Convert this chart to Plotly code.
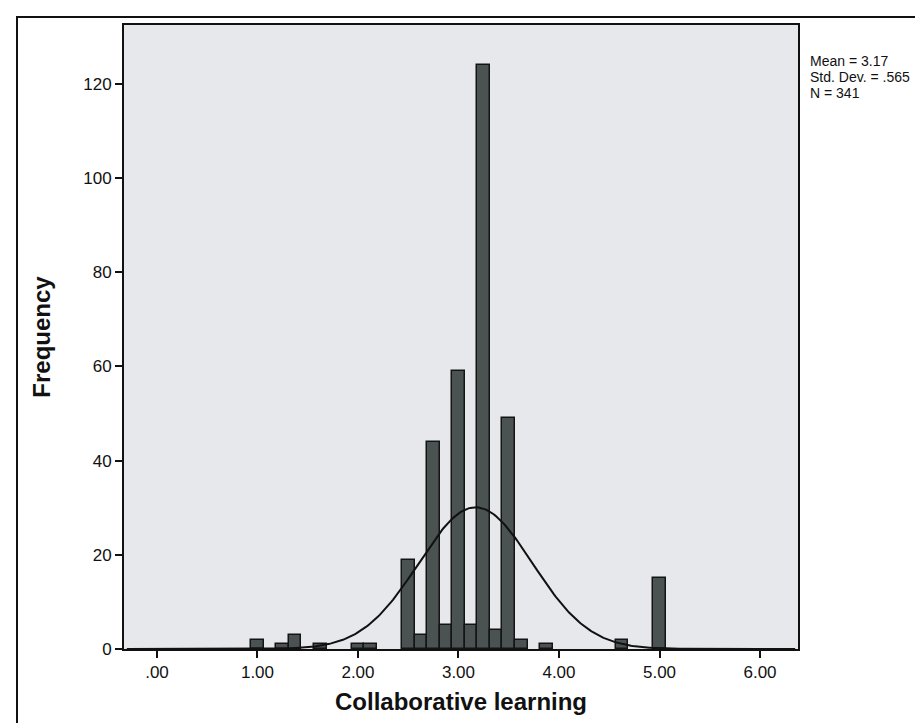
import numpy as np
import plotly.graph_objects as go

# ---- data ----
bin_centers = [1.000, 1.250, 1.375, 1.625, 2.000, 2.125,
               2.500, 2.625, 2.750, 2.875, 3.000, 3.125, 3.250, 3.375, 3.500, 3.625, 3.875,
               4.625, 5.000]
frequencies = [2, 1, 3, 1, 1, 1,
               19, 3, 44, 5, 59, 5, 124, 4, 49, 2, 1,
               2, 15]
BIN_WIDTH = 0.125
MEAN = 3.17
STD_DEV = 0.565
N = 341

x_tick_vals = [0, 1, 2, 3, 4, 5, 6]
x_tick_text = [".00", "1.00", "2.00", "3.00", "4.00", "5.00", "6.00"]
y_tick_vals = [0, 20, 40, 60, 80, 100, 120]

stats_lines = ["Mean = 3.17", "Std. Dev. = .565", "N = 341"]

# normal curve scaled to the histogram (as drawn by SPSS)
xc = np.linspace(-0.3, 6.35, 400)
yc = N * BIN_WIDTH / (STD_DEV * np.sqrt(2 * np.pi)) * np.exp(-0.5 * ((xc - MEAN) / STD_DEV) ** 2)

W, H = 923, 723
L, R, T, B = 116, 790, 17, 641

fig = go.Figure()
fig.add_trace(go.Bar(
    x=bin_centers, y=frequencies, width=BIN_WIDTH,
    marker=dict(color="#4b5252", line=dict(color="#141414", width=1.5)),
    showlegend=False, hoverinfo="x+y",
))
fig.add_trace(go.Scatter(
    x=xc, y=yc, mode="lines", line=dict(color="#111111", width=2),
    showlegend=False, hoverinfo="skip",
))

font_family = "Liberation Sans, Arial, sans-serif"

fig.update_layout(
    width=W, height=H,
    margin=dict(l=L, r=W - R, t=T, b=H - B, pad=0),
    paper_bgcolor="white",
    plot_bgcolor="#e6e8eb",
    bargap=0,
    font=dict(family=font_family, color="#111111"),
    xaxis=dict(
        range=[-0.328, 6.378],
        tickvals=x_tick_vals, ticktext=x_tick_text,
        ticks="outside", ticklen=7, tickwidth=2, tickcolor="#111111",
        tickfont=dict(size=17, family=font_family, color="#111111"),
        showgrid=False, zeroline=False,
        showline=True, linecolor="#111111", linewidth=2, mirror=True,
        title=dict(text="<b>Collaborative learning</b>",
                   font=dict(size=24, family=font_family, color="#111111"),
                   standoff=12),
    ),
    yaxis=dict(
        range=[0, 132.5],
        tickvals=y_tick_vals,
        ticks="outside", ticklen=7, tickwidth=2, tickcolor="#111111",
        tickfont=dict(size=17, family=font_family, color="#111111"),
        showgrid=False, zeroline=False,
        showline=True, linecolor="#111111", linewidth=2, mirror=True,
        title=dict(text="<b>Frequency</b>",
                   font=dict(size=24, family=font_family, color="#111111"),
                   standoff=26),
    ),
)

# outer frame around the whole chart (extends past the right edge)
fig.add_shape(type="rect", xref="paper", yref="paper",
              x0=(9 - L) / (R - L), x1=(1000 - L) / (R - L),
              y0=(B - 719) / (B - T), y1=(B - 9) / (B - T),
              line=dict(color="#111111", width=2), fillcolor="rgba(0,0,0,0)", layer="below")

# statistics text to the right of the plot
for i, txt in enumerate(stats_lines):
    py = 53 + i * 16
    fig.add_annotation(text=txt, xref="paper", yref="paper",
                       x=(800 - L) / (R - L), y=(B - py) / (B - T),
                       xanchor="left", yanchor="middle", showarrow=False,
                       font=dict(size=14, family=font_family, color="#111111"))

fig.write_html("out.html")
